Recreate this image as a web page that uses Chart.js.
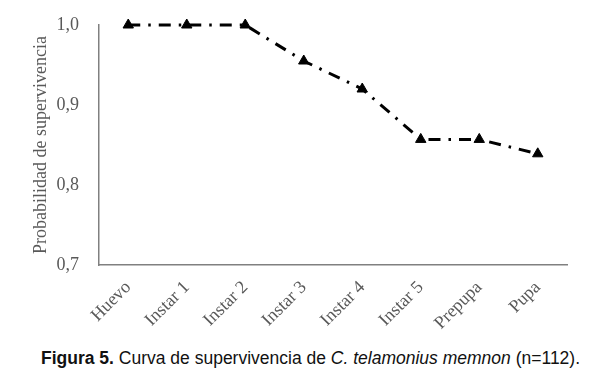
<!DOCTYPE html>
<html><head><meta charset="utf-8">
<script src="https://cdn.jsdelivr.net/npm/chart.js@4/dist/chart.umd.min.js"></script>
<style>
html,body{margin:0;padding:0;background:#fff;}
#wrap{position:relative;width:590px;height:381px;}
#c{position:absolute;left:0;top:0;}
#cap{position:absolute;left:41px;width:560px;top:348px;text-align:left;font-family:"Liberation Sans",Arial,sans-serif;font-size:17.5px;color:#111;white-space:nowrap;}
</style></head>
<body><div id="wrap"><canvas id="c" width="590" height="335"></canvas>
<div id="cap"><b>Figura 5.</b> Curva de supervivencia de <i>C. telamonius memnon</i> (n=112).</div></div>
<script>
const categories = ["Huevo","Instar 1","Instar 2","Instar 3","Instar 4","Instar 5","Prepupa","Pupa"];
const survival = [1.0, 1.0, 1.0, 0.955, 0.920, 0.857, 0.857, 0.839];
const yTicks = [0.7, 0.8, 0.9, 1.0];

new Chart(document.getElementById('c'), {
  type: 'line',
  data: { labels: categories, datasets: [{
    data: survival, borderColor:'#000', borderWidth:3, borderDash:[12,8,2.5,8], clip:false,
    pointStyle:'triangle', pointRadius:6, pointBackgroundColor:'#000', pointBorderColor:'#000', pointBorderWidth:1,
    tension:0, fill:false
  }]},
  options: {
    responsive:false, animation:false,
    layout:{padding:{top:25,right:23,left:0,bottom:0}},
    plugins:{legend:{display:false}, tooltip:{enabled:false}},
    scales:{
      x:{ offset:true, grid:{display:false, drawTicks:false}, border:{display:true,color:'#808080',width:1.5},
        ticks:{color:'#595959', font:{family:'"Liberation Serif"', size:18}, minRotation:45, maxRotation:45, padding:12},
        afterFit:(s)=>{s.height=70; s.paddingLeft=0; s.paddingRight=0;} },
      y:{ min:0.7, max:1.0, afterBuildTicks:(s)=>{s.ticks=yTicks.map(v=>({value:v}));},
        grid:{display:false, drawTicks:false}, border:{display:true,color:'#808080',width:1.5},
        ticks:{color:'#595959', padding:20, font:{family:'"Liberation Serif"', size:18}, callback:(v)=>v.toFixed(1).replace('.',',')},
        title:{display:true,text:'Probabilidad de supervivencia',color:'#595959',font:{family:'"Liberation Serif"',size:18},padding:{top:30,bottom:4}},
        afterFit:(s)=>{s.width=99; s.paddingTop=0; s.paddingBottom=0;} }
    }
  }
});
</script></body></html>
